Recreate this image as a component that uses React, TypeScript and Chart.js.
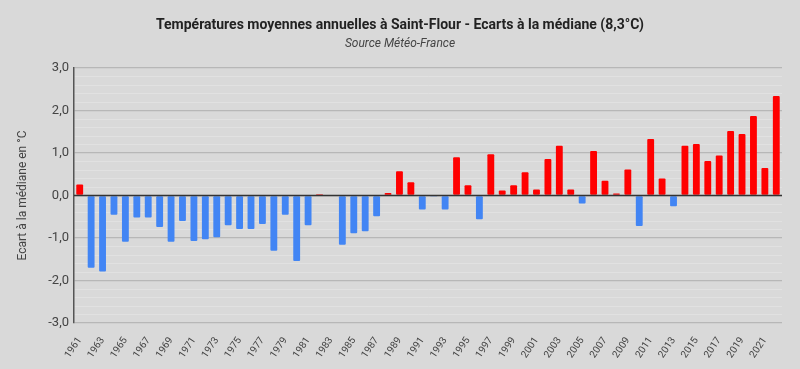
import React, { useEffect, useRef } from "react";
import { Chart, registerables } from "chart.js";

Chart.register(...registerables);

const TITLE = "Températures moyennes annuelles à Saint-Flour - Ecarts à la médiane (8,3°C)";
const SUBTITLE = "Source Météo-France";
const Y_TITLE = "Ecart à la médiane en °C";

const years: string[] = [
  "1961", "1962", "1963", "1964", "1965", "1966", "1967", "1968", "1969", "1970",
  "1971", "1972", "1973", "1974", "1975", "1976", "1977", "1978", "1979", "1980",
  "1981", "1982", "1983", "1984", "1985", "1986", "1987", "1988", "1989", "1990",
  "1991", "1992", "1993", "1994", "1995", "1996", "1997", "1998", "1999", "2000",
  "2001", "2002", "2003", "2004", "2005", "2006", "2007", "2008", "2009", "2010",
  "2011", "2012", "2013", "2014", "2015", "2016", "2017", "2018", "2019", "2020",
  "2021", "2022",
];

const ecarts: number[] = [
  0.26, -1.7, -1.79, -0.45, -1.09, -0.52, -0.52, -0.74, -1.09, -0.6,
  -1.07, -1.03, -0.98, -0.7, -0.79, -0.79, -0.67, -1.3, -0.45, -1.54,
  -0.7, 0.03, 0, -1.16, -0.89, -0.84, -0.49, 0.06, 0.57, 0.31,
  -0.33, -0.01, -0.33, 0.9, 0.24, -0.56, 0.97, 0.12, 0.24, 0.55,
  0.14, 0.86, 1.17, 0.14, -0.19, 1.05, 0.35, 0.05, 0.61, -0.72,
  1.33, 0.4, -0.25, 1.17, 1.21, 0.81, 0.94, 1.52, 1.45, 1.87,
  0.65, 2.34,
];

const Y_MIN = -3;
const Y_MAX = 3;
const Y_STEP = 0.2;

const isMajor = (v: number) => Math.abs(v - Math.round(v)) < 1e-6;

export default function App() {
  const ref = useRef<HTMLCanvasElement | null>(null);

  useEffect(() => {
    document.body.style.margin = "0";
    const canvas = ref.current;
    if (!canvas) return;

    const bgPlugin = {
      id: "bg",
      beforeDraw(chart: any) {
        const ctx = chart.ctx;
        ctx.save();
        ctx.fillStyle = "#d9d9d9";
        ctx.fillRect(0, 0, chart.width, chart.height);
        ctx.restore();
      },
    };

    const titlePlugin = {
      id: "titles",
      afterDraw(chart: any) {
        const ctx = chart.ctx;
        ctx.save();
        ctx.textAlign = "center";
        ctx.textBaseline = "middle";
        ctx.fillStyle = "#222222";
        ctx.font = "bold 14px Roboto";
        ctx.fillText(TITLE, 400, 25);
        ctx.fillStyle = "#444444";
        ctx.font = "italic 12px Roboto";
        ctx.fillText(SUBTITLE, 400, 43.5);
        ctx.restore();
      },
    };

    const zeroLine = {
      id: "zeroLine",
      afterDatasetsDraw(chart: any) {
        const y = chart.scales.y.getPixelForValue(0);
        const { left, right } = chart.chartArea;
        const ctx = chart.ctx;
        ctx.save();
        ctx.strokeStyle = "#333333";
        ctx.lineWidth = 1.3;
        ctx.beginPath();
        ctx.moveTo(left, y);
        ctx.lineTo(right, y);
        ctx.stroke();
        ctx.restore();
      },
    };

    const chart = new Chart(canvas, {
      type: "bar",
      data: {
        labels: years,
        datasets: [
          {
            label: "Ecart",
            data: ecarts,
            backgroundColor: ecarts.map((v) => (v >= 0 ? "#ff0000" : "#4285f4")),
            borderWidth: 0,
            borderRadius: 1,
            borderSkipped: false,
            barPercentage: 0.6,
            categoryPercentage: 1,
          },
        ],
      },
      options: {
        animation: false,
        responsive: false,
        maintainAspectRatio: false,
        layout: { padding: { top: 68, left: 12, right: 18, bottom: 0 } },
        plugins: {
          legend: { display: false },
          title: { display: false },
          tooltip: { enabled: false },
        },
        scales: {
          x: {
            grid: { display: false },
            border: { display: false },
            ticks: {
              autoSkip: false,
              minRotation: 56,
              maxRotation: 56,
              padding: 4,
              color: "#444444",
              font: { family: "Roboto", size: 10 },
              callback: (_v: any, i: number) => (i % 2 === 0 ? years[i] : ""),
            },
            afterFit: (scale: any) => {
              scale.height = 46;
            },
          },
          y: {
            min: Y_MIN,
            max: Y_MAX,
            grid: {
              drawTicks: false,
              color: (c: any) => (isMajor(c.tick.value) ? "#b7b7b7" : "#e1e1e1"),
              lineWidth: (c: any) => (isMajor(c.tick.value) ? 1.3 : 1),
            },
            border: { display: true, color: "#555555", width: 1.5 },
            title: {
              display: true,
              text: Y_TITLE,
              color: "#444444",
              font: { family: "Roboto", size: 12 },
            },
            ticks: {
              stepSize: Y_STEP,
              autoSkip: false,
              padding: 5,
              color: "#444444",
              font: { family: "Roboto", size: 13 },
              callback: (v: any) => {
                const n = Number(v);
                return isMajor(n) ? Math.round(n).toFixed(1).replace(".", ",") : "";
              },
            },
            afterFit: (scale: any) => {
              scale.width = 62;
            },
          },
        },
      },
      plugins: [bgPlugin, zeroLine, titlePlugin],
    });

    return () => chart.destroy();
  }, []);

  return <canvas ref={ref} width={800} height={369} style={{ display: "block" }} />;
}
